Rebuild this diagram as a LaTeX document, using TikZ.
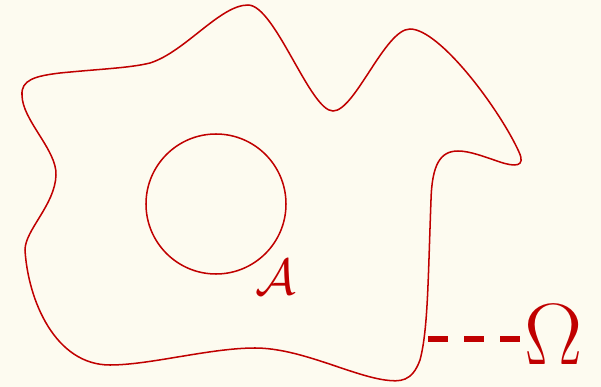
\documentclass[tikz,border=0pt]{standalone}
\usepackage{fix-cm}
\usepackage{amsmath,amssymb}
\usepackage{xcolor}
\usepackage{tikz}
\usetikzlibrary{calc, positioning}
\definecolor{paper}{RGB}{253,251,240}
\definecolor{setred}{RGB}{192,0,0}
\tikzset{
  setline/.style={
    draw=setred, line width=0.038cm
  },
  setlabel/.style={
    text=setred, inner sep=0pt, anchor=base
  },
  gapdash/.style={
    draw=setred, line width=0.15cm, dash pattern=on 0.5cm off 0.4cm
  },
}

\begin{document}
\begin{tikzpicture}[x=0.025cm, y=-0.025cm]
  % --- Canvas ---
  \fill[paper] (0,0) rectangle (601,387);
  \useasboundingbox (0,0) rectangle (601,387);

  % --- Domain boundary ---
  \draw[setline]
    (22,95) .. controls (21,80) and (35,76) .. (60,73)
    .. controls (100,69) and (130,68) .. (150,63)
    .. controls (185,52) and (220,5) .. (248,5)
    .. controls (275,5) and (310,111) .. (333,111)
    .. controls (355,111) and (385,29) .. (410,29)
    .. controls (440,29) and (500,110) .. (519,152)
    .. controls (526,167) and (515,167) .. (500,162)
    .. controls (485,157) and (470,151) .. (458,151)
    .. controls (440,151) and (432,165) .. (431,200)
    .. controls (428,280) and (428,330) .. (420,360)
    .. controls (412,382) and (400,382) .. (385,380)
    .. controls (350,375) and (300,348) .. (255,348)
    .. controls (210,348) and (150,365) .. (110,365)
    .. controls (55,365) and (28,300) .. (25,250)
    .. controls (25,230) and (55,205) .. (56,175)
    .. controls (57,150) and (22,120) .. cycle;

  % --- Inner set ---
  \draw[setline] (216,204) circle (70);
  \node[setlabel, font=\fontsize{36}{36}\selectfont] (setA) at (276,295)
    {$\mathcal{A}$};

  % --- Omega label ---
  \node[setlabel, font=\fontsize{62}{62}\selectfont] (omega) at (554,365)
    {$\Omega$};
  \coordinate (contact) at (428,339);
  \draw[gapdash] (contact) -- (contact -| omega.west);
\end{tikzpicture}
\end{document}
